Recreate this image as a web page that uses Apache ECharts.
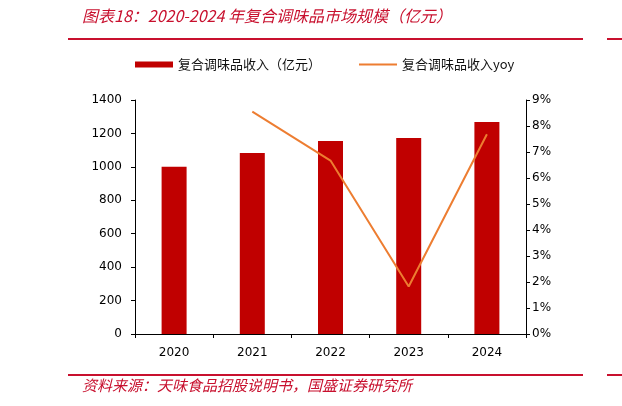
<!DOCTYPE html>
<html>
<head>
<meta charset="utf-8">
<script src="https://cdn.jsdelivr.net/npm/echarts@6/dist/echarts.min.js"></script>
<style>
  html, body { margin: 0; padding: 0; background: #fff; }
  #chart { width: 622px; height: 406px; }
</style>
</head>
<body>
<div id="chart"></div>
<script>
// 年份 / 收入(亿元) / 同比
const years = ["2020", "2021", "2022", "2023", "2024"]
const revenue = [1000, 1083, 1155, 1173, 1268]
const yoy = [null, 0.0855, 0.0667, 0.0183, 0.0768]

const titleText = "图表18：2020-2024 年复合调味品市场规模（亿元）"
const sourceText = "资料来源：天味食品招股说明书，国盛证券研究所"
const barName = "复合调味品收入（亿元）"
const lineName = "复合调味品收入yoy"

const red = "#C00000"
const orange = "#ED7D31"
const titleRed = "#C8102E"

let myChart = echarts.init(document.getElementById("chart"))

let options = {
    animation: false,
    backgroundColor: "#fff",
    textStyle: { fontFamily: "DejaVu Sans" },
    graphic: [
        {
            type: "text", left: 82, top: 8,
            style: {
                text: titleText, fill: titleRed,
                font: "italic 16px 'Noto Sans CJK SC'"
            }
        },
        { type: "rect", shape: { x: 68, y: 38, width: 515, height: 2 }, style: { fill: titleRed } },
        { type: "rect", shape: { x: 607, y: 38, width: 15, height: 2 }, style: { fill: titleRed } },
        { type: "rect", shape: { x: 68, y: 374, width: 515, height: 2 }, style: { fill: titleRed } },
        { type: "rect", shape: { x: 607, y: 374, width: 15, height: 2 }, style: { fill: titleRed } },
        {
            type: "text", left: 82, top: 378,
            style: {
                text: sourceText, fill: titleRed,
                font: "italic 15px 'Noto Sans CJK SC'"
            }
        }
    ],
    legend: {
        top: 58,
        left: 135,
        padding: 0,
        itemWidth: 38,
        itemHeight: 6,
        itemGap: 37,
        textStyle: { fontFamily: "Noto Sans CJK SC", fontSize: 13, color: "#111" },
        data: [
            { name: barName, icon: "rect" },
            { name: lineName, itemStyle: { opacity: 0 } }
        ]
    },
    grid: { left: 135, right: 96, top: 100, bottom: 72 },
    xAxis: {
        type: "category",
        data: years,
        axisLine: { lineStyle: { color: "#000" } },
        axisTick: { show: true, alignWithLabel: false, length: 4, lineStyle: { color: "#000" } },
        axisLabel: { color: "#000", fontSize: 12, margin: 13 }
    },
    yAxis: [
        {
            type: "value", min: 0, max: 1400, interval: 200,
            axisLine: { show: true, lineStyle: { color: "#000" } },
            axisTick: { show: true, length: 4, lineStyle: { color: "#000" } },
            axisLabel: { color: "#000", fontSize: 12, margin: 13, formatter: v => String(v) },
            splitLine: { show: false }
        },
        {
            type: "value", min: 0, max: 0.09, interval: 0.01,
            position: "right",
            axisLine: { show: true, lineStyle: { color: "#000" } },
            axisTick: { show: true, length: 4, lineStyle: { color: "#000" } },
            axisLabel: {
                color: "#000", fontSize: 12, margin: 6,
                formatter: v => Math.round(v * 100) + "%"
            },
            splitLine: { show: false }
        }
    ],
    series: [
        {
            name: barName,
            type: "bar",
            data: revenue,
            barWidth: 25,
            itemStyle: { color: red }
        },
        {
            name: lineName,
            type: "line",
            yAxisIndex: 1,
            data: yoy,
            symbol: "none",
            lineStyle: { color: orange, width: 2 },
            itemStyle: { color: orange }
        }
    ]
}
myChart.setOption(options)
</script>
</body>
</html>
